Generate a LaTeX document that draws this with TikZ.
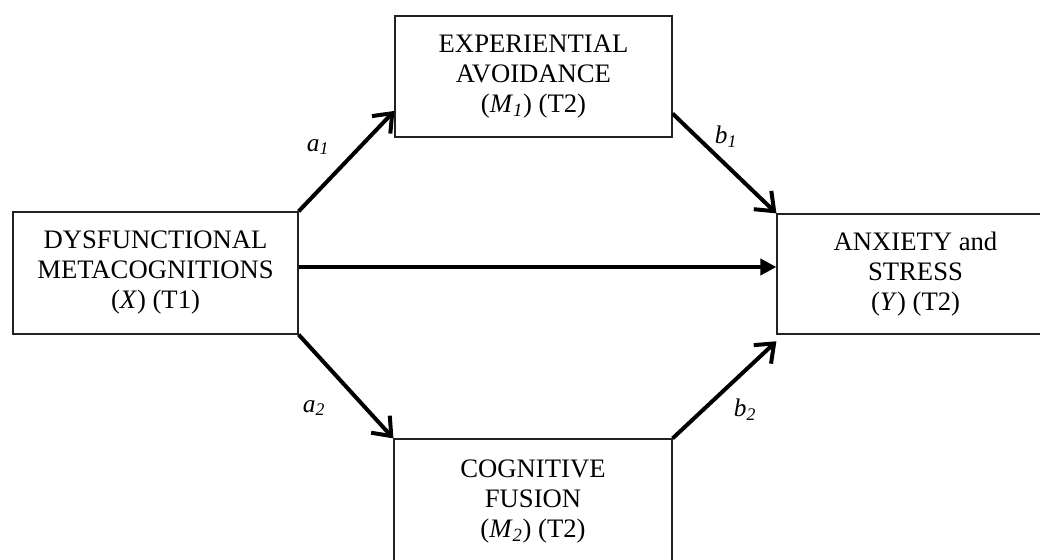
\documentclass[tikz,border=0pt]{standalone}
\usepackage{fontspec}
\setmainfont{Liberation Serif}
\usetikzlibrary{arrows.meta}
\definecolor{medInk}{HTML}{000000}
\definecolor{medFrame}{HTML}{222222}
\tikzset{
  med box/.style={draw=medFrame, line width=0.9pt, rectangle, align=center, inner sep=0pt,
    font=\fontsize{20}{22.5}\selectfont, text=medInk},
  med path/.style={draw=medInk, line width=3pt, -{Straight Barb[length=12pt,width=19pt]}},
  med direct/.style={draw=medInk, line width=2.8pt, -{Triangle[length=12pt,width=12pt]}},
  med label/.style={font=\fontsize{19}{21}\selectfont\itshape, text=medInk, inner sep=0pt},
}
\newcommand{\medsub}[2]{#1\textsubscript{#2}}

\begin{document}
\begin{tikzpicture}[x=0.75pt,y=0.75pt]
  \useasboundingbox (0,0) rectangle (1040,560);
  \clip (0,0) rectangle (1040,560);
  % boxes
  \node[med box, minimum width=213.75pt, minimum height=91.5pt] (dysf) at (155.5,287)
    {DYSFUNCTIONAL\\METACOGNITIONS\\(\textit{X}) (T1)};
  \node[med box, minimum width=207.75pt, minimum height=90.75pt] (avoid) at (533.5,483.5)
    {EXPERIENTIAL\\AVOIDANCE\\(\medsub{\textit{M}}{\textit{1}}) (T2)};
  \node[med box, minimum width=208.5pt, minimum height=93.75pt] (fusion) at (533,58.5)
    {COGNITIVE\\FUSION\\(\medsub{\textit{M}}{\textit{2}}) (T2)};
  \node[med box, minimum width=207.75pt, minimum height=90pt] (anxiety) at (915.5,286)
    {ANXIETY and\\STRESS\\(\textit{Y}) (T2)};
  % paths
  \draw[med path] (dysf.north east) -- ([yshift=20pt]avoid.south west);
  \draw[med path] ([yshift=18pt]avoid.south east) -- (anxiety.north west);
  \draw[med path] (dysf.south east) -- (fusion.north west);
  \draw[med path] (fusion.north east) -- ([yshift=-5pt]anxiety.south west);
  \draw[med direct] ([yshift=4.5pt]dysf.east) coordinate (direct) -- (direct -| anxiety.west);
  % labels
  \node[med label] (la1) at (318,413) {\medsub{a}{1}};
  \node[med label] (lb1) at (726,423) {\medsub{b}{1}};
  \node[med label] (la2) at (314,152) {\medsub{a}{2}};
  \node[med label] (lb2) at (745,150) {\medsub{b}{2}};
\end{tikzpicture}
\end{document}
